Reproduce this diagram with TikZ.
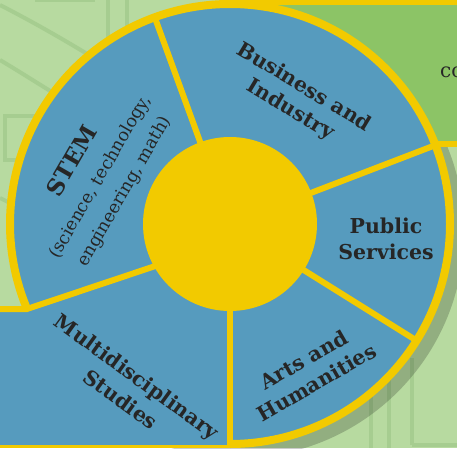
\documentclass[tikz,border=0pt]{standalone}
\usepackage{fontspec}
\setmainfont{DejaVu Serif}
\usetikzlibrary{calc,positioning}
\definecolor{bgreen}{HTML}{B7DAA0}
\definecolor{pgreen}{HTML}{A6CD90}
\definecolor{boxgreen}{HTML}{8CC466}
\definecolor{sblue}{HTML}{569BBE}
\definecolor{syellow}{HTML}{F2CA00}
\definecolor{ink}{HTML}{262626}

\begin{document}
\begin{tikzpicture}[x=1pt,y=1pt]
  \tikzstyle{slice} = [line width=6pt, draw=syellow]
  \tikzstyle{rim} = [line width=8pt, draw=syellow]
  \tikzstyle{pline} = [line width=4pt, draw=pgreen]
  \tikzstyle{lbl} = [text=ink, align=center, font=\fontsize{20.5}{26}\selectfont\bfseries, inner sep=0pt]
  \useasboundingbox (0,0) rectangle (457,448);
  \clip (0,0) rectangle (457,448);
  % background
  \fill[bgreen] (0,0) rectangle (457,448);
  \draw[pline] (0,443) .. controls (35,425) and (70,405) .. (110,380);
  \draw[pline] (0,388) .. controls (25,373) and (45,360) .. (70,345);
  \draw[pline] (108,448) -- (108,400);
  \draw[pline] (127,448) -- (127,400);
  \draw[pline, line width=3pt] (35,447) -- (95,447);
  \draw[pline] (5,288) rectangle (45,332);
  \draw[pline] (0,250) -- (20,240);
  \draw[pline] (371,0) -- (371,90);
  \draw[pline] (389,0) -- (389,90);
  \draw[pline] (412,3) -- (412,90);
  \draw[pline] (412,3) -- (457,3);
  % shadow
  \fill[black, fill opacity=0.2] (238,216) circle[radius=226];
  % green box
  \fill[boxgreen] (230,304) rectangle (457,446);
  \draw[syellow, line width=5pt] (230,445.5) -- (457,445.5);
  \draw[slice] (400,304) -- (457,304);
  \node[anchor=west, text=ink, font=\fontsize{20}{24}\selectfont, inner sep=0pt] (co) at (440,376) {co};
  % wheel
  \coordinate (c) at (230,224);
  \fill[sblue] (0,0) rectangle (230,139);
  \fill[sblue] (c) circle[radius=220];
  \draw[rim] (c) ++(-90:220) arc[start angle=-90, end angle=203, radius=220];
  \foreach \a in {110,21,-32}
    \draw[slice] (c) -- ++(\a:220);
  \draw[slice] (c) -- (230,0);
  \draw[slice] (0,139) -- (27,139) -- (230,207);
  \draw[syellow, line width=3pt] (0,1.5) -- (230,1.5);
  \node[circle, fill=syellow, minimum size=174pt, inner sep=0pt] (hub) at (c) {};
  % labels
  \node[lbl, rotate=-31] (biz) at (297,349) {Business and\\Industry};
  \node[lbl] (pub) at (386,209) {Public\\Services};
  \node[lbl, rotate=30] (arts) at (310,77) {Arts and\\Humanities};
  \node[lbl, rotate=-36, font=\fontsize{20.5}{28}\selectfont\bfseries] (multi) at (129,60) {Multidisciplinary\\Studies};
  \node[lbl, rotate=60, font=\fontsize{17.5}{28}\selectfont] (stem) at (98,272)
    {\fontsize{23}{27}\selectfont\bfseries STEM\\[2pt](science, technology,\\engineering, math)};
\end{tikzpicture}
\end{document}
